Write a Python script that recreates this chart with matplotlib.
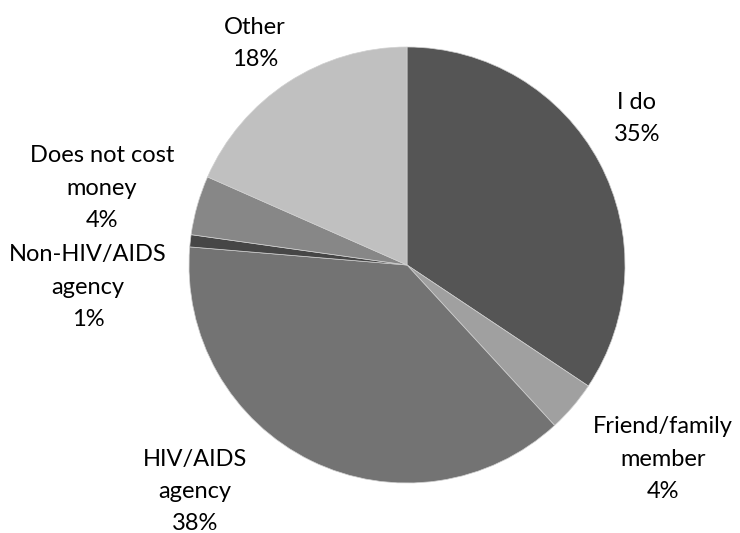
import matplotlib
matplotlib.use('Agg')
import matplotlib.pyplot as plt

# slice data, clockwise from 12 o'clock
labels = ['I do', 'Friend/family\nmember', 'HIV/AIDS\nagency',
          'Non-HIV/AIDS\nagency', 'Does not cost\nmoney', 'Other']
pct_text = ['35%', '4%', '38%', '1%', '4%', '18%']
values = [34.4, 3.8, 38.2, 0.9, 4.4, 18.4]
colors = ['#555555', '#a0a0a0', '#737373', '#464646', '#878787', '#c0c0c0']

# label centres relative to pie centre, in pie radii
lab_x = [1.055, 1.174, -0.972, -1.463, -1.399, -0.697]
lab_y = [0.670, -0.890, -1.037, -0.101, 0.353, 1.018]

plt.rcParams['font.family'] = ['Lato', 'DejaVu Sans']

W, H = 740, 533
cx, cy, r = 407, 265, 218
fig = plt.figure(figsize=(W / 100, H / 100), dpi=100)
ax = fig.add_axes([(cx - r) / W, (H - cy - r) / H, 2 * r / W, 2 * r / H])

ax.pie(values, colors=colors, startangle=90, counterclock=False,
       radius=1, wedgeprops=dict(linewidth=0.5, edgecolor='#d0d0d0'))
ax.set_xlim(-1, 1)
ax.set_ylim(-1, 1)
ax.set_aspect('equal')
ax.axis('off')

for lab, pt, x, y in zip(labels, pct_text, lab_x, lab_y):
    ax.text(x, y, lab + '\n' + pt, ha='center', va='center',
            fontsize=17, color='black', linespacing=1.65)

fig.savefig('out.png', dpi=100)
